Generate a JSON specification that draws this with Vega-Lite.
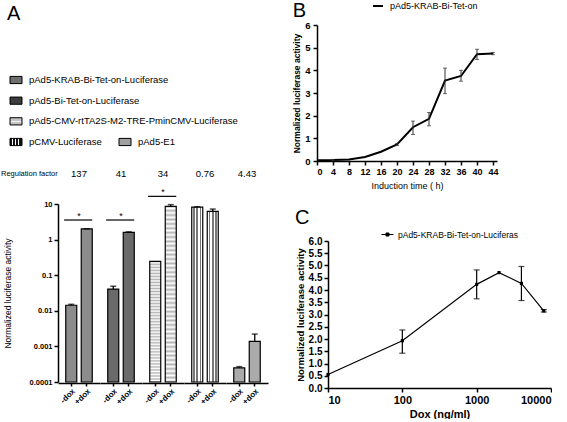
{
  "$schema": "https://vega.github.io/schema/vega-lite/v6.json",
  "background": "white",
  "padding": {"left": 1, "top": 0, "right": 0, "bottom": 0},
  "config": {
    "font": "Liberation Sans",
    "view": {"stroke": null},
    "axis": {"domainColor": "black", "domainWidth": 1.5, "tickColor": "black", "tickWidth": 1.5, "tickSize": 4, "labelColor": "black", "titleColor": "black", "grid": false, "labelOverlap": false},
    "title": {"color": "black"},
    "legend": {"labelColor": "black", "titleColor": "black"}
  },
  "spacing": 24,
  "hconcat": [
    {
      "spacing": 9,
      "vconcat": [
        {
          "title": {"text": "A", "anchor": "start", "frame": "bounds", "fontSize": 20, "fontWeight": "normal", "offset": 1, "dx": 6},
          "width": 210,
          "height": 150,
          "resolve": {"scale": {"x": "independent"}},
          "layer": [
            {
              "data": {"values": [
                {"construct": "pAd5-KRAB-Bi-Tet-on-Luciferase", "row": 1, "col": 1},
                {"construct": "pAd5-Bi-Tet-on-Luciferase", "row": 2, "col": 1},
                {"construct": "pAd5-CMV-rtTA2S-M2-TRE-PminCMV-Luciferase", "row": 3, "col": 1},
                {"construct": "pCMV-Luciferase", "row": 4, "col": 1},
                {"construct": "pAd5-E1", "row": 4, "col": 2}
              ]},
              "layer": [
                {
                  "mark": {"type": "point", "shape": "M-1,-0.6H1V0.6H-1Z", "size": 144, "filled": true, "stroke": "black", "strokeWidth": 1, "opacity": 1},
                  "encoding": {
                    "x": {"field": "col", "type": "quantitative", "scale": {"domain": [1, 2], "range": [-42, 67]}, "axis": null},
                    "y": {"field": "row", "type": "quantitative", "scale": {"domain": [1, 4], "range": [55, 117]}, "axis": null},
                    "fill": {
                      "condition": [
                        {"test": "datum.construct === 'pAd5-KRAB-Bi-Tet-on-Luciferase'", "value": "#6f6f6f"},
                        {"test": "datum.construct === 'pAd5-Bi-Tet-on-Luciferase'", "value": "#3c3c3c"},
                        {"test": "datum.construct === 'pAd5-CMV-rtTA2S-M2-TRE-PminCMV-Luciferase'", "value":
                          {"gradient": "linear", "x1": 0, "y1": 0, "x2": 0, "y2": 1, "stops": [
                            {"offset": 0, "color": "#c4c4c4"}, {"offset": 0.4, "color": "#c4c4c4"}, {"offset": 0.5, "color": "#ffffff"}, {"offset": 0.6, "color": "#c4c4c4"}, {"offset": 1, "color": "#c4c4c4"}]}},
                        {"test": "datum.construct === 'pCMV-Luciferase'", "value":
                          {"gradient": "linear", "x1": 0, "y1": 0, "x2": 1, "y2": 0, "stops": [
                            {"offset": 0, "color": "#111111"}, {"offset": 0.17, "color": "#111111"}, {"offset": 0.17, "color": "#ffffff"}, {"offset": 0.25, "color": "#ffffff"},
                            {"offset": 0.25, "color": "#111111"}, {"offset": 0.42, "color": "#111111"}, {"offset": 0.42, "color": "#ffffff"}, {"offset": 0.5, "color": "#ffffff"},
                            {"offset": 0.5, "color": "#111111"}, {"offset": 0.67, "color": "#111111"}, {"offset": 0.67, "color": "#ffffff"}, {"offset": 0.75, "color": "#ffffff"},
                            {"offset": 0.75, "color": "#111111"}, {"offset": 1, "color": "#111111"}]}}
                      ],
                      "value": "#a0a0a0"
                    }
                  }
                },
                {
                  "mark": {"type": "text", "align": "left", "baseline": "middle", "dx": 13, "fontSize": 9.5, "color": "black"},
                  "encoding": {
                    "x": {"field": "col", "type": "quantitative"},
                    "y": {"field": "row", "type": "quantitative"},
                    "text": {"field": "construct"}
                  }
                },
                {
                  "data": {"values": [{"label": "Regulation factor"}]},
                  "mark": {"type": "text", "align": "left", "baseline": "middle", "dx": -15, "fontSize": 7.5, "color": "black"},
                  "encoding": {
                    "x": {"datum": 1, "type": "quantitative"},
                    "y": {"datum": 5.55, "type": "quantitative"},
                    "text": {"field": "label"}
                  }
                }
              ]
            },
            {
              "data": {"values": [{"factor": "137"}, {"factor": "41"}, {"factor": "34"}, {"factor": "0.76"}, {"factor": "4.43"}]},
              "mark": {"type": "text", "baseline": "middle", "fontSize": 9.5, "color": "black"},
              "encoding": {
                "x": {"field": "factor", "type": "nominal", "sort": ["137", "41", "34", "0.76", "4.43"], "scale": {"type": "band", "paddingInner": 0, "paddingOuter": 0}, "axis": null},
                "y": {"datum": 5.55, "type": "quantitative"},
                "text": {"field": "factor"}
              }
            }
          ]
        },
        {
          "data": {"values": [
            {"construct": "pAd5-KRAB-Bi-Tet-on-Luciferase", "factor": "137", "cond": "-dox", "value": 0.0143, "err": 0.0152, "sig": 3.55},
            {"construct": "pAd5-KRAB-Bi-Tet-on-Luciferase", "factor": "137", "cond": "+dox", "value": 1.99, "err": 2.02},
            {"construct": "pAd5-Bi-Tet-on-Luciferase", "factor": "41", "cond": "-dox", "value": 0.0408, "err": 0.049, "sig": 3.55},
            {"construct": "pAd5-Bi-Tet-on-Luciferase", "factor": "41", "cond": "+dox", "value": 1.59, "err": 1.65},
            {"construct": "pAd5-CMV-rtTA2S-M2-TRE-PminCMV-Luciferase", "factor": "34", "cond": "-dox", "value": 0.245, "sig": 16.4},
            {"construct": "pAd5-CMV-rtTA2S-M2-TRE-PminCMV-Luciferase", "factor": "34", "cond": "+dox", "value": 8.6, "err": 9.6},
            {"construct": "pCMV-Luciferase", "factor": "0.76", "cond": "-dox", "value": 8.2, "err": 8.4},
            {"construct": "pCMV-Luciferase", "factor": "0.76", "cond": "+dox", "value": 6.24, "err": 7.2},
            {"construct": "pAd5-E1", "factor": "4.43", "cond": "-dox", "value": 0.00025, "err": 0.00027},
            {"construct": "pAd5-E1", "factor": "4.43", "cond": "+dox", "value": 0.00139, "err": 0.00222}
          ]},
          "facet": {"column": {"field": "factor", "type": "nominal", "sort": ["137", "41", "34", "0.76", "4.43"], "header": {"title": null, "labels": false}}},
          "spacing": {"column": 0},
          "spec": {
            "width": 42,
            "height": 178,
            "layer": [
              {
                "mark": {"type": "bar", "stroke": "black", "strokeWidth": 1.2, "opacity": 1},
                "encoding": {
                  "x": {"field": "cond", "type": "nominal", "scale": {"domain": ["-dox", "+dox"], "paddingInner": 0.29, "paddingOuter": 0.5},
                    "axis": {"title": null, "labelAngle": -45, "labelFontSize": 8, "labelFontWeight": "bold", "tickSize": 3, "labelPadding": 1}},
                  "y": {"field": "value", "type": "quantitative", "scale": {"type": "log", "domain": [0.0001, 10]},
                    "axis": {"title": "Normalized luciferase activity", "titleFontSize": 8.5, "titleFontWeight": "normal", "titlePadding": 17, "tickCount": 20,
                      "values": [0.0001, 0.001, 0.01, 0.1, 1, 10], "format": ".4~f", "labelFontSize": 7.5, "labelFontWeight": "bold", "labelPadding": 2}},
                  "y2": {"datum": 0.0001},
                  "fill": {
                    "condition": [
                      {"test": "datum.construct === 'pAd5-KRAB-Bi-Tet-on-Luciferase'", "value": "#8c8c8c"},
                      {"test": "datum.construct === 'pAd5-Bi-Tet-on-Luciferase'", "value": "#6a6a6a"},
                      {"test": "datum.construct === 'pAd5-CMV-rtTA2S-M2-TRE-PminCMV-Luciferase'", "value":
                        {"gradient": "linear", "x1": 0, "y1": 0, "x2": 0, "y2": 1, "stops": [
                          {"offset": 0, "color": "#b5b5b5"}, {"offset": 0.0125, "color": "#ffffff"}, {"offset": 0.025, "color": "#b5b5b5"}, {"offset": 0.0375, "color": "#ffffff"},
                          {"offset": 0.05, "color": "#b5b5b5"}, {"offset": 0.0625, "color": "#ffffff"}, {"offset": 0.075, "color": "#b5b5b5"}, {"offset": 0.0875, "color": "#ffffff"},
                          {"offset": 0.1, "color": "#b5b5b5"}, {"offset": 0.1125, "color": "#ffffff"}, {"offset": 0.125, "color": "#b5b5b5"}, {"offset": 0.1375, "color": "#ffffff"},
                          {"offset": 0.15, "color": "#b5b5b5"}, {"offset": 0.1625, "color": "#ffffff"}, {"offset": 0.175, "color": "#b5b5b5"}, {"offset": 0.1875, "color": "#ffffff"},
                          {"offset": 0.2, "color": "#b5b5b5"}, {"offset": 0.2125, "color": "#ffffff"}, {"offset": 0.225, "color": "#b5b5b5"}, {"offset": 0.2375, "color": "#ffffff"},
                          {"offset": 0.25, "color": "#b5b5b5"}, {"offset": 0.2625, "color": "#ffffff"}, {"offset": 0.275, "color": "#b5b5b5"}, {"offset": 0.2875, "color": "#ffffff"},
                          {"offset": 0.3, "color": "#b5b5b5"}, {"offset": 0.3125, "color": "#ffffff"}, {"offset": 0.325, "color": "#b5b5b5"}, {"offset": 0.3375, "color": "#ffffff"},
                          {"offset": 0.35, "color": "#b5b5b5"}, {"offset": 0.3625, "color": "#ffffff"}, {"offset": 0.375, "color": "#b5b5b5"}, {"offset": 0.3875, "color": "#ffffff"},
                          {"offset": 0.4, "color": "#b5b5b5"}, {"offset": 0.4125, "color": "#ffffff"}, {"offset": 0.425, "color": "#b5b5b5"}, {"offset": 0.4375, "color": "#ffffff"},
                          {"offset": 0.45, "color": "#b5b5b5"}, {"offset": 0.4625, "color": "#ffffff"}, {"offset": 0.475, "color": "#b5b5b5"}, {"offset": 0.4875, "color": "#ffffff"},
                          {"offset": 0.5, "color": "#b5b5b5"}, {"offset": 0.5125, "color": "#ffffff"}, {"offset": 0.525, "color": "#b5b5b5"}, {"offset": 0.5375, "color": "#ffffff"},
                          {"offset": 0.55, "color": "#b5b5b5"}, {"offset": 0.5625, "color": "#ffffff"}, {"offset": 0.575, "color": "#b5b5b5"}, {"offset": 0.5875, "color": "#ffffff"},
                          {"offset": 0.6, "color": "#b5b5b5"}, {"offset": 0.6125, "color": "#ffffff"}, {"offset": 0.625, "color": "#b5b5b5"}, {"offset": 0.6375, "color": "#ffffff"},
                          {"offset": 0.65, "color": "#b5b5b5"}, {"offset": 0.6625, "color": "#ffffff"}, {"offset": 0.675, "color": "#b5b5b5"}, {"offset": 0.6875, "color": "#ffffff"},
                          {"offset": 0.7, "color": "#b5b5b5"}, {"offset": 0.7125, "color": "#ffffff"}, {"offset": 0.725, "color": "#b5b5b5"}, {"offset": 0.7375, "color": "#ffffff"},
                          {"offset": 0.75, "color": "#b5b5b5"}, {"offset": 0.7625, "color": "#ffffff"}, {"offset": 0.775, "color": "#b5b5b5"}, {"offset": 0.7875, "color": "#ffffff"},
                          {"offset": 0.8, "color": "#b5b5b5"}, {"offset": 0.8125, "color": "#ffffff"}, {"offset": 0.825, "color": "#b5b5b5"}, {"offset": 0.8375, "color": "#ffffff"},
                          {"offset": 0.85, "color": "#b5b5b5"}, {"offset": 0.8625, "color": "#ffffff"}, {"offset": 0.875, "color": "#b5b5b5"}, {"offset": 0.8875, "color": "#ffffff"},
                          {"offset": 0.9, "color": "#b5b5b5"}, {"offset": 0.9125, "color": "#ffffff"}, {"offset": 0.925, "color": "#b5b5b5"}, {"offset": 0.9375, "color": "#ffffff"},
                          {"offset": 0.95, "color": "#b5b5b5"}, {"offset": 0.9625, "color": "#ffffff"}, {"offset": 0.975, "color": "#b5b5b5"}, {"offset": 0.9875, "color": "#ffffff"},
                          {"offset": 1, "color": "#b5b5b5"}
                        ]}},
                      {"test": "datum.construct === 'pCMV-Luciferase'", "value":
                        {"gradient": "linear", "x1": 0, "y1": 0, "x2": 1, "y2": 0, "stops": [
                          {"offset": 0, "color": "#ffffff"}, {"offset": 0.14, "color": "#ffffff"}, {"offset": 0.14, "color": "#777777"}, {"offset": 0.29, "color": "#777777"},
                          {"offset": 0.29, "color": "#ffffff"}, {"offset": 0.43, "color": "#ffffff"}, {"offset": 0.43, "color": "#777777"}, {"offset": 0.57, "color": "#777777"},
                          {"offset": 0.57, "color": "#ffffff"}, {"offset": 0.71, "color": "#ffffff"}, {"offset": 0.71, "color": "#777777"}, {"offset": 0.86, "color": "#777777"},
                          {"offset": 0.86, "color": "#ffffff"}, {"offset": 1, "color": "#ffffff"}
                        ]}}
                    ],
                    "value": "#ababab"
                  }
                }
              },
              {
                "transform": [{"filter": "isValid(datum.err)"}],
                "mark": {"type": "rule", "color": "black", "strokeWidth": 1.3},
                "encoding": {
                  "x": {"field": "cond", "type": "nominal", "scale": {"domain": ["-dox", "+dox"]}},
                  "y": {"field": "value", "type": "quantitative"},
                  "y2": {"field": "err"}
                }
              },
              {
                "transform": [{"filter": "isValid(datum.err)"}],
                "mark": {"type": "tick", "orient": "horizontal", "color": "black", "size": 6, "thickness": 1.5},
                "encoding": {
                  "x": {"field": "cond", "type": "nominal", "scale": {"domain": ["-dox", "+dox"]}},
                  "y": {"field": "err", "type": "quantitative"}
                }
              },
              {
                "transform": [{"filter": "isValid(datum.sig)"}],
                "mark": {"type": "rule", "color": "black", "strokeWidth": 1.2},
                "encoding": {
                  "x": {"datum": "-dox", "type": "nominal", "bandPosition": -0.15},
                  "x2": {"datum": "+dox", "bandPosition": 1},
                  "y": {"field": "sig", "type": "quantitative"}
                }
              },
              {
                "transform": [{"filter": "isValid(datum.sig)"}],
                "mark": {"type": "text", "text": "*", "fontSize": 9, "baseline": "alphabetic", "dy": -1, "color": "black"},
                "encoding": {
                  "x": {"datum": "-dox", "type": "nominal", "bandPosition": 1.2},
                  "y": {"field": "sig", "type": "quantitative"}
                }
              }
            ]
          }
        }
      ]
    },
    {
      "spacing": 18,
      "vconcat": [
        {
          "title": {"text": "B", "anchor": "start", "frame": "bounds", "fontSize": 20, "fontWeight": "normal", "offset": -1},
          "width": 169,
          "height": 136,
          "data": {"values": [
            {"series": "pAd5-KRAB-Bi-Tet-on", "t": 0, "v": 0.03},
            {"series": "pAd5-KRAB-Bi-Tet-on", "t": 4, "v": 0.04, "lo": 0.01, "hi": 0.07},
            {"series": "pAd5-KRAB-Bi-Tet-on", "t": 8, "v": 0.07},
            {"series": "pAd5-KRAB-Bi-Tet-on", "t": 12, "v": 0.18},
            {"series": "pAd5-KRAB-Bi-Tet-on", "t": 16, "v": 0.41},
            {"series": "pAd5-KRAB-Bi-Tet-on", "t": 20, "v": 0.73, "lo": 0.68, "hi": 0.78},
            {"series": "pAd5-KRAB-Bi-Tet-on", "t": 24, "v": 1.49, "lo": 1.17, "hi": 1.76},
            {"series": "pAd5-KRAB-Bi-Tet-on", "t": 28, "v": 1.86, "lo": 1.55, "hi": 2.14},
            {"series": "pAd5-KRAB-Bi-Tet-on", "t": 32, "v": 3.55, "lo": 2.97, "hi": 4.1},
            {"series": "pAd5-KRAB-Bi-Tet-on", "t": 36, "v": 3.75, "lo": 3.52, "hi": 4.0},
            {"series": "pAd5-KRAB-Bi-Tet-on", "t": 40, "v": 4.71, "lo": 4.48, "hi": 4.93},
            {"series": "pAd5-KRAB-Bi-Tet-on", "t": 44, "v": 4.74, "lo": 4.69, "hi": 4.79}
          ]},
          "layer": [
            {
              "mark": {"type": "line", "strokeWidth": 2},
              "encoding": {
                "x": {"field": "t", "type": "quantitative", "scale": {"domain": [0, 44], "range": [-11, 169]},
                  "axis": {"title": "Induction time ( h)", "titleFontSize": 9, "titleFontWeight": "normal", "titlePadding": 5, "tickCount": 20, "format": "d", "values": [0, 4, 8, 12, 16, 20, 24, 28, 32, 36, 40, 44], "labelFontSize": 9, "labelFontWeight": "bold", "labelPadding": 2}},
                "y": {"field": "v", "type": "quantitative", "scale": {"domain": [0, 6]},
                  "axis": {"title": "Normalized luciferase activity", "offset": 11, "titleFontSize": 8.5, "titleFontWeight": "bold", "titlePadding": 3, "tickCount": 20, "format": "d", "values": [0, 1, 2, 3, 4, 5, 6], "labelFontSize": 9.5, "labelFontWeight": "bold", "labelPadding": 3}},
                "stroke": {"field": "series", "type": "nominal", "scale": {"range": ["black"]},
                  "legend": {"orient": "none", "legendX": 314, "legendY": -25, "title": null, "labelFontSize": 9, "symbolType": "M-1,0H1", "symbolSize": 100, "symbolStrokeWidth": 2, "symbolStrokeColor": "black", "labelOffset": 6, "padding": 0}}
              }
            },
            {
              "transform": [{"filter": "isValid(datum.lo)"}],
              "mark": {"type": "rule", "color": "#333333", "strokeWidth": 1},
              "encoding": {"x": {"field": "t", "type": "quantitative"}, "y": {"field": "lo", "type": "quantitative"}, "y2": {"field": "hi"}}
            },
            {
              "transform": [{"filter": "isValid(datum.lo)"}],
              "mark": {"type": "tick", "orient": "horizontal", "color": "#333333", "size": 4, "thickness": 1},
              "encoding": {"x": {"field": "t", "type": "quantitative"}, "y": {"field": "lo", "type": "quantitative"}}
            },
            {
              "transform": [{"filter": "isValid(datum.hi)"}],
              "mark": {"type": "tick", "orient": "horizontal", "color": "#333333", "size": 4, "thickness": 1},
              "encoding": {"x": {"field": "t", "type": "quantitative"}, "y": {"field": "hi", "type": "quantitative"}}
            }
          ]
        },
        {
          "title": {"text": "C", "anchor": "start", "frame": "bounds", "fontSize": 20, "fontWeight": "normal", "offset": 8},
          "width": 223,
          "height": 147,
          "data": {"values": [
            {"series": "pAd5-KRAB-Bi-Tet-on-Luciferas", "dose": 10, "v": 0.55},
            {"series": "pAd5-KRAB-Bi-Tet-on-Luciferas", "dose": 100, "v": 1.93, "lo": 1.42, "hi": 2.37},
            {"series": "pAd5-KRAB-Bi-Tet-on-Luciferas", "dose": 1000, "v": 4.23, "lo": 3.64, "hi": 4.82},
            {"series": "pAd5-KRAB-Bi-Tet-on-Luciferas", "dose": 2000, "v": 4.71},
            {"series": "pAd5-KRAB-Bi-Tet-on-Luciferas", "dose": 4000, "v": 4.27, "lo": 3.57, "hi": 4.96},
            {"series": "pAd5-KRAB-Bi-Tet-on-Luciferas", "dose": 8000, "v": 3.15, "lo": 3.1, "hi": 3.2}
          ]},
          "layer": [
            {
              "mark": {"type": "line", "strokeWidth": 1.2},
              "encoding": {
                "x": {"field": "dose", "type": "quantitative", "scale": {"type": "log", "domain": [10, 10000]},
                  "axis": {"title": "Dox (ng/ml)", "titleFontSize": 11, "titleFontWeight": "bold", "titlePadding": 3, "tickCount": 20, "values": [10, 100, 1000, 10000], "format": "d", "labelFontSize": 11, "labelFontWeight": "bold", "labelPadding": 2}},
                "y": {"field": "v", "type": "quantitative", "scale": {"domain": [0, 6]},
                  "axis": {"title": "Normalized luciferase activity", "titleFontSize": 9.5, "titleFontWeight": "bold", "titlePadding": 3, "tickCount": 20, "values": [0, 0.5, 1, 1.5, 2, 2.5, 3, 3.5, 4, 4.5, 5, 5.5, 6], "format": ".1f", "labelFontSize": 10, "labelFontWeight": "bold", "labelPadding": 2}},
                "color": {"field": "series", "type": "nominal", "scale": {"range": ["black"]},
                  "legend": {"orient": "none", "legendX": 323, "legendY": 203, "title": null, "labelFontSize": 8.5, "symbolType": "M-1,0H1M-0.25,-0.25H0.25V0.25H-0.25Z", "symbolSize": 144, "symbolStrokeWidth": 1, "symbolStrokeColor": "black", "symbolFillColor": "black", "labelOffset": 4, "padding": 0}}
              }
            },
            {
              "mark": {"type": "point", "shape": "square", "filled": true, "size": 10, "color": "black", "opacity": 1},
              "encoding": {"x": {"field": "dose", "type": "quantitative"}, "y": {"field": "v", "type": "quantitative"}}
            },
            {
              "transform": [{"filter": "isValid(datum.lo)"}],
              "mark": {"type": "rule", "color": "black", "strokeWidth": 1.2},
              "encoding": {"x": {"field": "dose", "type": "quantitative"}, "y": {"field": "lo", "type": "quantitative"}, "y2": {"field": "hi"}}
            },
            {
              "transform": [{"filter": "isValid(datum.lo)"}],
              "mark": {"type": "tick", "orient": "horizontal", "color": "black", "size": 6, "thickness": 1.2},
              "encoding": {"x": {"field": "dose", "type": "quantitative"}, "y": {"field": "lo", "type": "quantitative"}}
            },
            {
              "transform": [{"filter": "isValid(datum.hi)"}],
              "mark": {"type": "tick", "orient": "horizontal", "color": "black", "size": 6, "thickness": 1.2},
              "encoding": {"x": {"field": "dose", "type": "quantitative"}, "y": {"field": "hi", "type": "quantitative"}}
            }
          ]
        }
      ]
    }
  ]
}
